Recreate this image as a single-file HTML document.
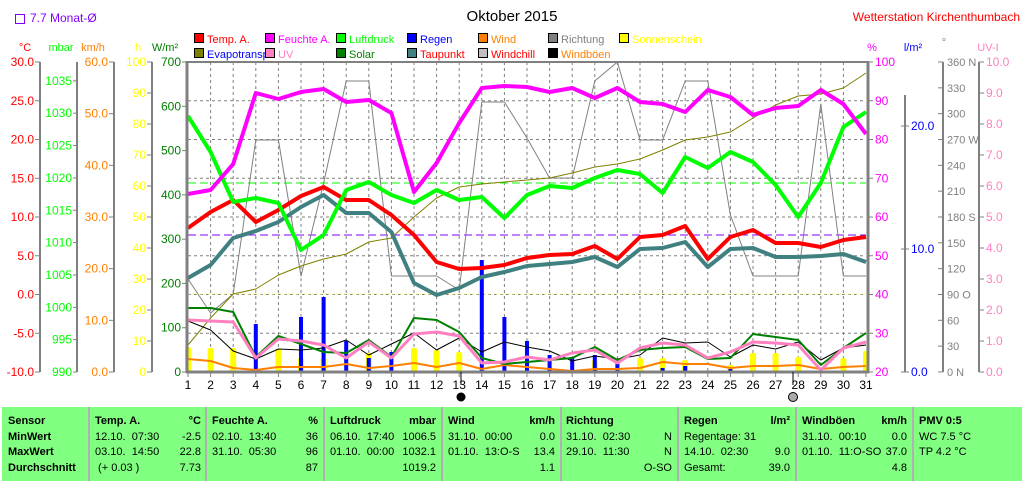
<!DOCTYPE html>
<html><head><meta charset="utf-8">
<style>
html,body{margin:0;padding:0;background:#fff;width:1024px;height:481px;overflow:hidden;font-family:"Liberation Sans",sans-serif}
#tbl{position:absolute;left:2px;top:407px;width:1020px;height:74px;background:#80ff80}
.c{position:absolute;font-size:11px;line-height:15px;white-space:pre;color:#000}
.b{font-weight:bold}
.sep{position:absolute;top:407px;width:2px;height:74px;background:#b0b0b0}
</style></head><body>
<svg id="s" width="1024" height="407" style="position:absolute;left:0;top:0" font-family="Liberation Sans, sans-serif" font-size="11"></svg>
<div id="tbl"></div>
<div id="t"></div>
<script>
const X=d=>188+(d-1)*22.6;
let h='';
function pl(a,c,w){h+=`<polyline points="${a.map((y,i)=>X(i+1).toFixed(1)+','+y).join(' ')}" fill="none" stroke="${c}" stroke-width="${w}" stroke-linejoin="round"/>`;}
function tx(x,y,s,c,anc,fs){h+=`<text x="${x}" y="${y}" fill="${c}" text-anchor="${anc||'start'}"${fs?` font-size="${fs}"`:''}>${s}</text>`;}
function ln(x1,y1,x2,y2,c,w,da){h+=`<line x1="${x1}" y1="${y1}" x2="${x2}" y2="${y2}" stroke="${c}" stroke-width="${w||1}" ${da?`stroke-dasharray="${da}"`:''}/>`;}
h+=`<text x="512" y="21" font-size="15" text-anchor="middle" fill="#000">Oktober 2015</text>`;
tx(1020,21,'Wetterstation Kirchenthumbach','#ff0000','end',12);
h+=`<rect x="15.5" y="14.5" width="9" height="9" fill="none" stroke="#8000ff"/>`;
tx(30,22,'7.7 Monat-Ø','#8000ff','start',12);
const L1=[['Temp. A.','#ff0000','#ff0000'],['Feuchte A.','#ff00ff','#ff00ff'],['Luftdruck','#00ff00','#00ff00'],['Regen','#0000ff','#0000ff'],['Wind','#ff8000','#ff8000'],['Richtung','#808080','#808080'],['Sonnenschein','#ffff00','#ffff00']];
const L2=[['Evapotransp.','#808000','#0000ff'],['UV','#ff80c0','#ff80c0'],['Solar','#008000','#008000'],['Taupunkt','#408080','#ff0000'],['Windchill','#c0c0c0','#ff0000'],['Windböen','#000','#ff8000']];
const LX=[194,265,336,407,478,548,619];
[L1,L2].forEach((L,r)=>L.forEach((e,i)=>{let y=r?48:33;h+=`<rect x="${LX[i]+.5}" y="${y+.5}" width="9" height="9" fill="${e[1]}" stroke="#000"/>`;tx(LX[i]+13,y+10,e[0],e[2]);}));
tx(25,51,'°C','#ff0000','middle');tx(61,51,'mbar','#00ff00','middle');tx(93,51,'km/h','#ff8000','middle');tx(138,51,'h','#ffff00','middle');tx(165,51,'W/m²','#008000','middle');
tx(872,51,'%','#ff00ff','middle');tx(913,51,'l/m²','#0000ff','middle');tx(944,46,'°','#808080','middle');tx(988,51,'UV-I','#ff80c0','middle');
for(let d=2;d<=30;d++)ln(X(d),62,X(d),372,'#808080',1,'3,3');
for(let k=1;k<8;k++)ln(188,62+38.75*k,866,62+38.75*k,'#808080',1,'3,3');
ln(188,183,866,183,'#00ff00',1,'8,4');
ln(188,235,866,235,'#8000ff',1,'8,4');
ln(188,294,866,294,'#ffff80',1,'2,2');
const G='#808080';
ln(40,62,40,372,G,2);for(let i=0;i<9;i++){let y=62+38.75*i;ln(35,y,40,y,G);tx(34,y+4,(30-5*i).toFixed(1),'#ff0000','end',12);}
ln(77,62,77,372,G,2);for(let v=990;v<=1035;v+=5){let y=372-(v-990)*6.47;ln(73,y,77,y,G);tx(72,y+4,v,'#00ff00','end',12);}
ln(114,62,114,372,G,2);for(let i=0;i<7;i++){let y=62+51.67*i;ln(109,y,114,y,G);tx(108,y+4,(60-10*i).toFixed(1),'#ff8000','end',12);}
ln(152,62,152,372,G,2);for(let i=0;i<11;i++){let y=62+31*i;ln(147,y,152,y,G);tx(146,y+4,100-10*i,'#ffff00','end',12);}
for(let i=0;i<8;i++){let y=62+44.29*i;ln(182,y,187,y,G);tx(181,y+4,700-100*i,'#008000','end',12);}
for(let i=0;i<9;i++){let y=62+38.75*i;ln(868,y,873,y,G);tx(875,y+4,100-10*i,'#ff00ff','start',12);}
ln(905,95,905,372,G,2);[[20,126],[10,249],[0,372]].forEach(a=>{ln(901,a[1],909,a[1],G);tx(911,a[1]+4,a[0].toFixed(1),'#0000ff','start',12);});
ln(943,62,943,372,G,2);for(let i=0;i<13;i++){let y=62+25.83*i,v=360-30*i;let s={360:' N',270:' W',180:' S',90:' O',0:' N'}[v]||'';ln(938,y,943,y,G);tx(947,y+4,v+s,'#808080');}
ln(979,62,979,372,G,2);for(let i=0;i<11;i++){let y=62+31*i;ln(979,y,984,y,G);tx(986,y+4,(10-i).toFixed(1),'#ff80c0','start',12);}
const sun={1:347,2:348,3:348,5:349,6:358,7:358,9:353,11:348,12:350,13:352,19:360,21:358,22:358,23:360,25:365,26:353,27:353,28:357,30:358,31:351};
for(const d in sun)h+=`<rect x="${X(+d)-3}" y="${sun[d]}" width="6" height="${372-sun[d]}" rx="2" fill="#ffff00"/>`;
const rain={4:324,6:317,7:297,8:341,9:358,10:352,14:260,15:317,16:341,17:355,18:357,19:355,20:362,22:368,23:366,25:369};
for(const d in rain)h+=`<rect x="${X(+d)-2}" y="${rain[d]}" width="4" height="${372-rain[d]}" fill="#0000ff"/>`;
pl([279,313,294,140,140,276,183,81,81,276,276,276,290,102,102,138,178,178,81,62,140,140,81,81,215,276,276,276,104,276,276],'#808080',1);
pl([345,318,294,289,275,266,259,254,242,238,217,198,187,184,182,180,178,173,167,164,159,150,140,137,132,118,105,96,94,88,73],'#808000',1);
pl([321,330,351,359,349,350,348,340,355,344,333,350,338,352,342,347,351,361,356,359,355,338,343,342,357,345,349,342,360,348,345],'#000',1);
pl([359,361,368,370,367,367,367,364,368,366,363,367,363,369,365,367,369,371,369,369,368,362,364,364,368,366,366,365,369,367,366],'#ff8000',2);
pl([308,308,312,357,336,344,352,353,340,357,318,320,332,358,364,362,360,358,347,360,350,348,347,359,358,334,337,340,365,348,333],'#008000',2);
pl([320,321,322,358,339,341,345,358,342,358,334,332,336,363,362,357,360,353,350,363,348,343,345,358,352,342,343,345,370,348,342],'#ff80c0',3);
pl([278,265,238,231,222,207,195,213,213,232,283,295,288,277,272,266,264,262,257,267,249,248,242,267,249,248,257,257,256,254,262],'#408080',4);
pl([228,212,200,222,210,196,187,200,200,215,235,262,269,268,265,258,255,254,246,259,237,235,226,259,237,230,243,243,247,240,237],'#ff0000',4);
pl([116,152,202,198,203,250,235,190,182,195,203,190,200,197,218,195,186,188,178,170,174,193,157,168,152,162,185,217,183,127,112],'#00ff00',4);
pl([194,190,164,93,99,92,89,102,100,113,192,163,123,88,86,87,92,88,98,88,102,104,112,90,97,115,108,106,90,104,134],'#ff00ff',4);
ln(187,61,187,373,G,3);ln(186,372,869,372,G,3);ln(868,61,868,373,G,3);ln(186,62,869,62,G,2);
for(let d=1;d<=31;d++){ln(X(d),372,X(d),377,G);tx(X(d),389,d,'#000','middle',12);}
ln(461,372,461,385,'#000');ln(793,372,793,385,'#000');
h+=`<circle cx="461" cy="397" r="4.5" fill="#000"/><circle cx="793" cy="397" r="4.5" fill="#aaa" stroke="#000"/>`;
document.getElementById('s').innerHTML=h;
const seps=[88,205,323,441,560,677,795,912];
let t='';seps.forEach(x=>t+=`<div class="sep" style="left:${x}px"></div>`);
const R=[414,430,445,461];
function c(x,r,s,b,right){t+=`<div class="c${b?' b':''}" style="${right?'right:'+(1024-x)+'px':'left:'+x+'px'};top:${R[r]}px">${s}</div>`;}
['Sensor','MinWert','MaxWert','Durchschnitt'].forEach((s,i)=>c(8,i,s,1));
const cols=[[95,201,'Temp. A.','°C',['12.10.  07:30','-2.5'],['03.10.  14:50','22.8'],[' (+ 0.03 )','7.73']],
[212,318,'Feuchte A.','%',['02.10.  13:40','36'],['31.10.  05:30','96'],['','87']],
[330,436,'Luftdruck','mbar',['06.10.  17:40','1006.5'],['01.10.  00:00','1032.1'],['','1019.2']],
[448,555,'Wind','km/h',['31.10.  00:00','0.0'],['01.10.  13:O-S','13.4'],['','1.1']],
[566,672,'Richtung','',['31.10.  02:30','N'],['29.10.  11:30','N'],['','O-SO']],
[684,790,'Regen','l/m²',['Regentage: 31',''],['14.10.  02:30','9.0'],['Gesamt:','39.0']],
[802,907,'Windböen','km/h',['31.10.  00:10','0.0'],['01.10.  11:O-SO','37.0'],['','4.8']],
[919,1018,'PMV 0:5','',['WC 7.5 °C',''],['TP 4.2 °C',''],['','']]];
cols.forEach(k=>{c(k[0],0,k[2],1);if(k[3])c(k[1],0,k[3],1,1);for(let r=1;r<4;r++){if(k[3+r][0])c(k[0],r,k[3+r][0]);if(k[3+r][1])c(k[1],r,k[3+r][1],0,1);}});
document.getElementById('t').innerHTML=t;
</script>
</body></html>
